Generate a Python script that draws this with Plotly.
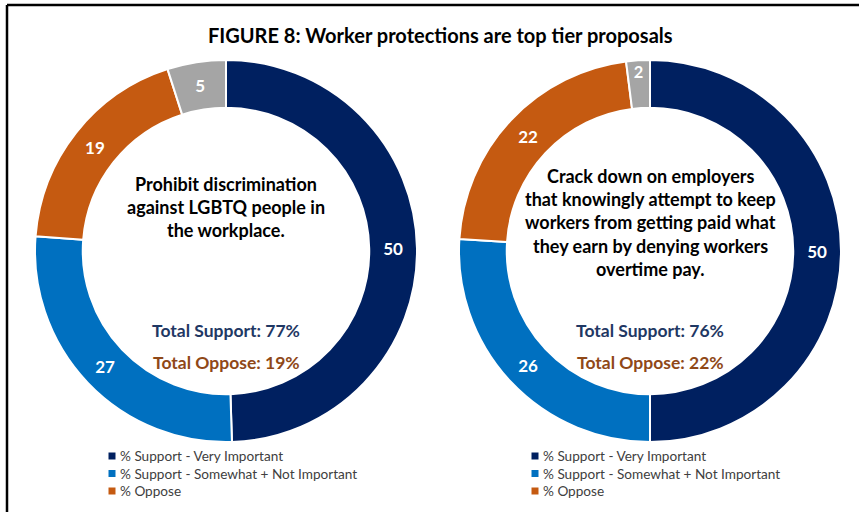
import plotly.graph_objects as go

W, H = 859, 512

# Survey shares (percent), clockwise from 12 o'clock
segments = ["% Support - Very Important", "% Support - Somewhat + Not Important",
            "% Oppose", "Don't know"]
lgbtq_values = [50, 27, 19, 5]
overtime_values = [50, 26, 22, 2]
seg_colors = ["#002060", "#0070C0", "#C55A11", "#A5A5A5"]

title_text = "FIGURE 8: Worker protections are top tier proposals"
lgbtq_lines = ["Prohibit discrimination", "against LGBTQ people in", "the workplace."]
overtime_lines = ["Crack down on employers", "that knowingly attempt to keep",
                  "workers from getting paid what", "they earn by denying workers",
                  "overtime pay."]
lgbtq_totals = {"support": 77, "oppose": 19}
overtime_totals = {"support": 76, "oppose": 22}

FONT = "Lato"


def px(x):
    return x / W


def py(y):
    return 1 - y / H


fig = go.Figure()

# Donut layout: centre (cx, cy) in pixels, outer radius R
donuts = [
    dict(values=lgbtq_values, cx=226, cy=251, lines=lgbtq_lines, totals=lgbtq_totals,
         line_y0=184, legend_x=112),
    dict(values=overtime_values, cx=650, cy=251, lines=overtime_lines, totals=overtime_totals,
         line_y0=176, legend_x=535),
]
R = 191

for d in donuts:
    fig.add_trace(go.Pie(
        labels=segments,
        values=d["values"],
        sort=False,
        direction="clockwise",
        rotation=0,
        hole=0.75,
        marker=dict(colors=seg_colors, line=dict(color="white", width=2)),
        texttemplate="%{value}",
        textposition="inside",
        insidetextorientation="horizontal",
        textfont=dict(family=FONT, size=17, color="white", weight="bold"),
        domain=dict(x=[px(d["cx"] - R), px(d["cx"] + R)],
                    y=[py(d["cy"] + R), py(d["cy"] - R)]),
        showlegend=False,
        hoverinfo="skip",
    ))

annotations = []
shapes = []

# Title
annotations.append(dict(
    text=f"<b>{title_text}</b>", x=px(440), y=py(35), xref="paper", yref="paper",
    showarrow=False, xanchor="center", yanchor="middle",
    font=dict(family=FONT, size=20, color="#000000"),
))

for d in donuts:
    # Statement in the donut hole
    for i, line in enumerate(d["lines"]):
        annotations.append(dict(
            text=f"<b>{line}</b>", x=px(d["cx"]), y=py(d["line_y0"] + 23.2 * i),
            xref="paper", yref="paper", showarrow=False,
            xanchor="center", yanchor="middle",
            font=dict(family=FONT, size=18, color="#000000"),
        ))
    annotations.append(dict(
        text=f"<b>Total Support: {d['totals']['support']}%</b>",
        x=px(d["cx"]), y=py(330), xref="paper", yref="paper", showarrow=False,
        xanchor="center", yanchor="middle",
        font=dict(family=FONT, size=17.5, color="#1F3864"),
    ))
    annotations.append(dict(
        text=f"<b>Total Oppose: {d['totals']['oppose']}%</b>",
        x=px(d["cx"]), y=py(362), xref="paper", yref="paper", showarrow=False,
        xanchor="center", yanchor="middle",
        font=dict(family=FONT, size=17.5, color="#8F4818"),
    ))

    # Legend (first three segments only)
    for i in range(3):
        ly = 456 + 17.5 * i
        lx = d["legend_x"]
        shapes.append(dict(
            type="rect", xref="paper", yref="paper",
            x0=px(lx - 3.5), x1=px(lx + 3.5), y0=py(ly + 3.5), y1=py(ly - 3.5),
            fillcolor=seg_colors[i], line=dict(width=0),
        ))
        annotations.append(dict(
            text=segments[i], x=px(lx + 6), y=py(ly), xref="paper", yref="paper",
            showarrow=False, xanchor="left", yanchor="middle",
            font=dict(family=FONT, size=13.6, color="#404040"),
        ))

# Frame lines along the top and left edges
shapes.append(dict(type="line", xref="paper", yref="paper",
                   x0=px(7), x1=px(W + 2), y0=py(5), y1=py(5),
                   line=dict(color="black", width=2.5)))
shapes.append(dict(type="line", xref="paper", yref="paper",
                   x0=px(7), x1=px(7), y0=py(5), y1=py(H + 2),
                   line=dict(color="black", width=2.5)))

fig.update_layout(
    width=W, height=H,
    margin=dict(l=0, r=0, t=0, b=0),
    paper_bgcolor="white",
    plot_bgcolor="white",
    annotations=annotations,
    shapes=shapes,
    font=dict(family=FONT),
)

fig.write_html("out.html", config=dict(displayModeBar=False))
